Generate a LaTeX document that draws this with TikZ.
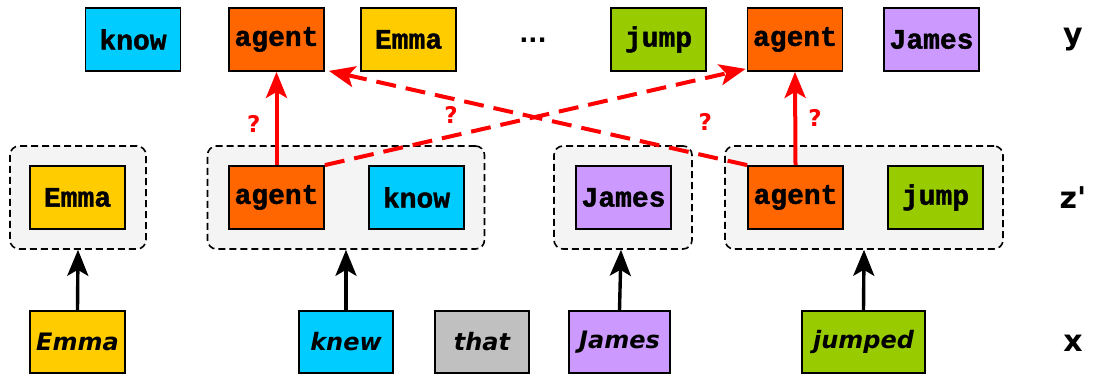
\documentclass[tikz,border=0pt]{standalone}
\usepackage{fontspec}
\newfontfamily\codefont{Liberation Mono}[BoldFeatures={FakeBold=1.5}]
\newfontfamily\labelfont{DejaVu Sans}
\usetikzlibrary{arrows.meta}

\definecolor{cknow}{HTML}{00CCFF}
\definecolor{cagent}{HTML}{FF6600}
\definecolor{cemma}{HTML}{FFCC00}
\definecolor{cjump}{HTML}{99CC00}
\definecolor{cjames}{HTML}{CC99FF}
\definecolor{cthat}{HTML}{C0C0C0}
\definecolor{cgroup}{HTML}{F4F4F4}
\definecolor{cred}{HTML}{FF0000}

\tikzset{
  concept/.style={draw=black, line width=1.8pt, inner sep=0pt,
    minimum width=95pt, minimum height=63pt,
    font=\codefont\bfseries\fontsize{28}{30}\selectfont},
  word/.style={draw=black, line width=1.8pt, inner sep=0pt,
    minimum height=62pt,
    font=\labelfont\bfseries\itshape\fontsize{24}{28}\selectfont},
  group/.style={draw=black, dash pattern=on 7pt off 4pt, line width=1.6pt,
    fill=cgroup, rounded corners=9pt, inner sep=0pt, minimum height=103pt},
  rowlabel/.style={font=\labelfont\bfseries\fontsize{30}{32}\selectfont, inner sep=0pt},
  feeds/.style={line width=3.4pt, -{Stealth[length=26pt,width=21pt,inset=6pt]}},
  align/.style={draw=cred, line width=4pt, -{Stealth[length=26pt,width=21pt,inset=6pt]}},
  guess/.style={dash pattern=on 20pt off 10pt},
  qmark/.style={text=cred, inner sep=0pt, font=\labelfont\bfseries\fontsize{23}{25}\selectfont},
}

\begin{document}
\begin{tikzpicture}[x=1pt, y=-1pt]
\useasboundingbox (0,0) rectangle (1097,378);

% output graph fragments y
\node[concept, fill=cknow]  (yknow)   at (133,39.5)   {know};
\node[concept, fill=cagent] (yagentA) at (276.5,39.5) {agent};
\node[concept, fill=cemma]  (yemma)   at (408.5,39.5) {Emma};
\node[font=\labelfont\bfseries\fontsize{24}{26}\selectfont, inner sep=0pt] (ydots) at (533,40) {...};
\node[concept, fill=cjump]  (yjump)   at (658.5,39.5) {jump};
\node[concept, fill=cagent] (yagentB) at (795,39.5)   {agent};
\node[concept, fill=cjames] (yjames)  at (931.5,39.5) {James};

% latent fragments z'
\node[group, minimum width=136pt] (g1) at (78,197.5) {};
\node[group, minimum width=277pt] (g2) at (346,197.5) {};
\node[group, minimum width=138pt] (g3) at (623,197.5) {};
\node[group, minimum width=278pt] (g4) at (864,197.5) {};

\node[concept, fill=cemma]  (zemma)   at (77.5,197.5)  {Emma};
\node[concept, fill=cagent] (zagentA) at (276.5,197.5) {agent};
\node[concept, fill=cknow]  (zknow)   at (416.5,197.5) {know};
\node[concept, fill=cjames] (zjames)  at (623.5,197.5) {James};
\node[concept, fill=cagent] (zagentB) at (795.5,197.5) {agent};
\node[concept, fill=cjump]  (zjump)   at (935.5,197.5) {jump};

% input words x
\node[word, fill=cemma,  minimum width=95pt]  (xemma)   at (77.5,342)  {Emma};
\node[word, fill=cknow,  minimum width=94pt]  (xknew)   at (346,342)   {knew};
\node[word, fill=cthat,  minimum width=94pt]  (xthat)   at (482,342)   {that};
\node[word, fill=cjames, minimum width=101pt] (xjames)  at (619.5,342) {James};
\node[word, fill=cjump,  minimum width=123pt] (xjumped) at (863.5,342) {jumped};

% row labels
\node[rowlabel] (ly) at (1073,40)  {y};
\node[rowlabel] (lz) at (1073,198) {z'};
\node[rowlabel] (lx) at (1073,343) {x};

% words to fragments
\draw[feeds] (xemma.north)   -- (g1.south);
\draw[feeds] (xknew.north)   -- (g2.south);
\draw[feeds] (xjames.north)  -- ([xshift=-2pt]g3.south);
\draw[feeds] (xjumped.north) -- (g4.south);

% candidate alignments
\draw[align] (zagentA.north) -- node[qmark, pos=0.44, left=14pt] {?} (yagentA.south);
\draw[align] (zagentB.north) -- node[qmark, pos=0.51, right=11pt] {?} (yagentB.south);
\draw[align, guess] (zagentA.north east) -- node[qmark, pos=0.3, above=11pt] {?} ([xshift=-1pt,yshift=3pt]yagentB.south west);
\draw[align, guess] (zagentB.north west) -- node[qmark, pos=0.1, above=23pt] {?} ([xshift=4pt,yshift=1pt]yagentA.south east);
\end{tikzpicture}
\end{document}
